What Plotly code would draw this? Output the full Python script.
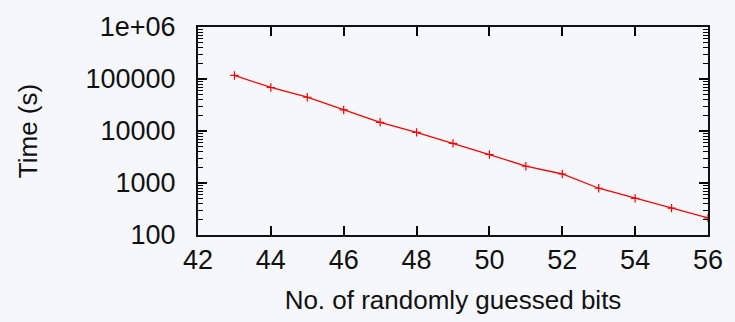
import plotly.graph_objects as go

bits = [43, 44, 45, 46, 47, 48, 49, 50, 51, 52, 53, 54, 55, 56]
time_s = [117000, 68700, 44600, 25400, 14700, 9420, 5780, 3530, 2100, 1490, 793, 506, 328, 213]

x_ticks = [42, 44, 46, 48, 50, 52, 54, 56]
y_ticks = [100, 1000, 10000, 100000, 1000000]
y_tick_text = ["100", "1000", "10000", "100000", "1e+06"]
y_minor = [m * 10 ** e for e in range(2, 6) for m in range(2, 10)]

FONT = "Liberation Sans"
BG = "#f6f7fd"
PAD = "\u00a0\u00a0"

fig = go.Figure()
fig.add_trace(go.Scatter(
    x=bits, y=time_s, mode="lines+markers",
    line=dict(color="#ff0000", width=1.3),
    marker=dict(symbol="cross-thin", size=6, line=dict(color="#ff0000", width=1.2)),
    showlegend=False,
))

fig.update_layout(
    width=735, height=322,
    margin=dict(l=198, r=21, t=23, b=86),
    paper_bgcolor=BG, plot_bgcolor=BG,
    font=dict(family=FONT, size=27, color="#111111"),
)
fig.update_xaxes(
    range=[42, 56], tickvals=x_ticks, ticks="inside", ticklen=9, tickwidth=1.6,
    tickcolor="#000000",
    showline=True, linecolor="#111111", linewidth=2, mirror="allticks",
    showgrid=False, zeroline=False,
    title=dict(text="No. of randomly guessed bits", standoff=16,
               font=dict(family=FONT, size=26, color="#111111")),
)
fig.update_yaxes(
    type="log", range=[2, 6], tickvals=y_ticks,
    ticktext=[t + PAD for t in y_tick_text],
    ticks="inside", ticklen=9, tickwidth=1.6, tickcolor="#000000",
    showline=True, linecolor="#111111", linewidth=2, mirror="allticks",
    showgrid=False, zeroline=False,
    minor=dict(ticks="inside", ticklen=5, tickwidth=1.4, tickmode="array",
               tickvals=y_minor, tickcolor="#000000", showgrid=False),
    title=dict(text="Time (s)", standoff=40,
               font=dict(family=FONT, size=26, color="#111111")),
)

fig.write_html(
    "out.html",
    config={"displayModeBar": False},
    post_script="document.body.style.margin='0';document.body.style.background='%s';" % BG,
)
